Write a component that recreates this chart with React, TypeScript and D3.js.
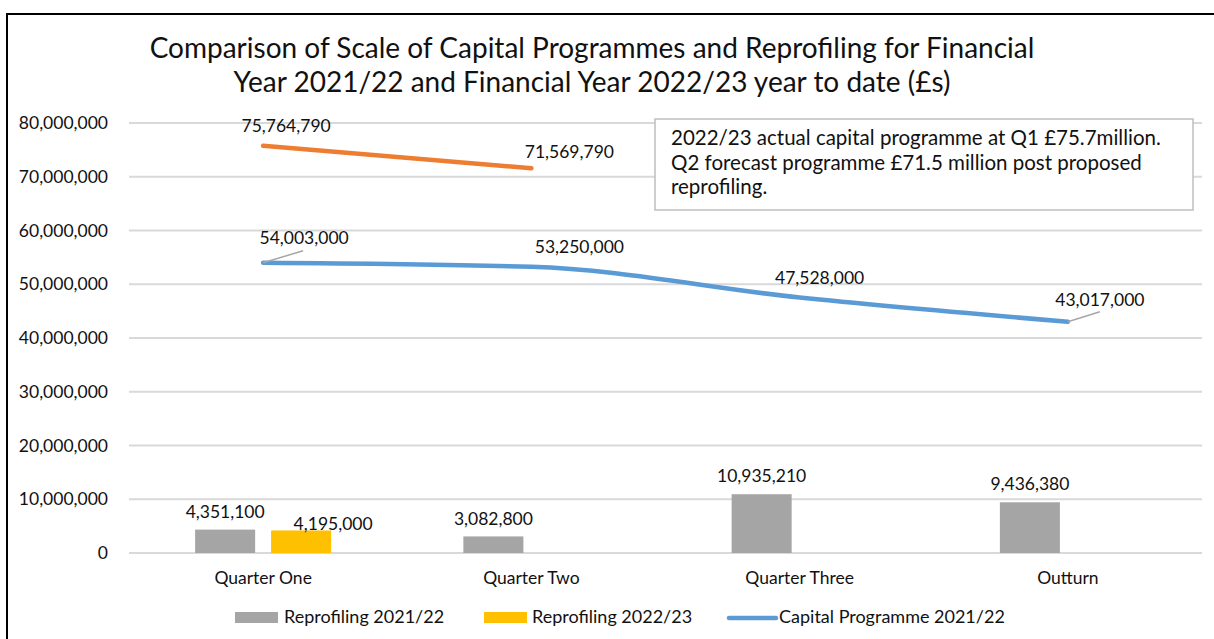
import React from 'react';
import * as d3 from 'd3';

const categories = ['Quarter One', 'Quarter Two', 'Quarter Three', 'Outturn'];
const reprofiling2122 = [4351100, 3082800, 10935210, 9436380];
const reprofiling2223 = [4195000, null, null, null];
const capital2122 = [54003000, 53250000, 47528000, 43017000];
const capital2223 = [75764790, 71569790, null, null];
const yTicks = [0, 10000000, 20000000, 30000000, 40000000, 50000000, 60000000, 70000000, 80000000];

const titleLines = [
  'Comparison of Scale of Capital Programmes and Reprofiling for Financial',
  'Year 2021/22 and Financial Year 2022/23 year to date (£s)',
];
const noteLines = [
  '2022/23 actual capital programme at Q1 £75.7million.',
  'Q2 forecast programme £71.5 million post proposed',
  'reprofiling.',
];

const W = 1214;
const H = 639;
const FONT = 'Lato, "Open Sans", sans-serif';
const GREY = '#a5a5a5';
const GOLD = '#ffc000';
const BLUE = '#5b9bd5';
const ORANGE = '#ed7d31';

// where Excel nudged the data labels (dx, dy from the point)
const capLabelOffset = [[41, -25], [48, -20], [20, -20], [32, -22]];
const orangeLabelOffset = [[23, -20], [38, -16]];

export default function App() {
  const x = d3.scaleBand().domain(categories).range([129, 1202]).padding(0);
  const cx = (c: string) => (x(c) as number) + x.bandwidth() / 2;
  const inner = d3.scaleBand().domain(['a', 'b']).range([-68, 68]).paddingInner(0.21);
  const y = d3.scaleLinear().domain([0, 80000000]).range([553, 123]);
  const fmt = d3.format(',');

  const smooth = d3
    .line<number>()
    .x((_, i) => cx(categories[i]))
    .y((d) => y(d))
    .curve(d3.curveMonotoneX);
  const straight = d3
    .line<number | null>()
    .defined((d) => d != null)
    .x((_, i) => cx(categories[i]))
    .y((d) => y(d as number));

  const txt = { fontFamily: FONT, fill: '#111' };

  return (
    <svg width={W} height={H} style={{ position: 'absolute', left: 0, top: 0, background: '#fff' }}>
      <rect x={7} y={14} width={1240} height={660} fill="#fff" stroke="#000" strokeWidth={2} />

      {titleLines.map((t, i) => (
        <text key={t} x={592} y={58 + i * 34} textAnchor="middle" fontSize={28} {...txt}>
          {t}
        </text>
      ))}

      {yTicks.map((t) => (
        <g key={t}>
          <line x1={129} x2={1202} y1={y(t)} y2={y(t)} stroke="#d9d9d9" strokeWidth={2} />
          <text x={108} y={y(t)} dy="0.35em" textAnchor="end" fontSize={17.5} {...txt}>
            {fmt(t)}
          </text>
        </g>
      ))}

      {categories.map((c, i) => (
        <g key={c}>
          <rect
            x={cx(c) + (inner('a') as number)}
            y={y(reprofiling2122[i])}
            width={inner.bandwidth()}
            height={y(0) - y(reprofiling2122[i])}
            fill={GREY}
          />
          <text x={cx(c) + (inner('a') as number) + inner.bandwidth() / 2} y={y(reprofiling2122[i]) - 18} dy="0.35em" textAnchor="middle" fontSize={17.5} {...txt}>
            {fmt(reprofiling2122[i])}
          </text>
          {reprofiling2223[i] != null && (
            <>
              <rect
                x={cx(c) + (inner('b') as number)}
                y={y(reprofiling2223[i] as number)}
                width={inner.bandwidth()}
                height={y(0) - y(reprofiling2223[i] as number)}
                fill={GOLD}
              />
              <text x={cx(c) + (inner('b') as number) + inner.bandwidth() / 2 + 32} y={y(reprofiling2223[i] as number) - 7} dy="0.35em" textAnchor="middle" fontSize={17.5} {...txt}>
                {fmt(reprofiling2223[i] as number)}
              </text>
            </>
          )}
          <text x={cx(c)} y={578} dy="0.35em" textAnchor="middle" fontSize={17.5} {...txt}>
            {c}
          </text>
        </g>
      ))}

      <path d={straight(capital2223) || ''} fill="none" stroke={ORANGE} strokeWidth={4.5} strokeLinecap="round" />
      <path d={smooth(capital2122) || ''} fill="none" stroke={BLUE} strokeWidth={4.5} strokeLinecap="round" />

      {/* leader lines */}
      <line x1={cx(categories[0])} y1={y(capital2122[0])} x2={cx(categories[0]) + 40} y2={y(capital2122[0]) - 12} stroke="#a6a6a6" strokeWidth={1.5} />
      <line x1={cx(categories[3])} y1={y(capital2122[3])} x2={cx(categories[3]) + 32} y2={y(capital2122[3]) - 10} stroke="#a6a6a6" strokeWidth={1.5} />

      {capital2122.map((v, i) => (
        <text key={'c' + i} x={cx(categories[i]) + capLabelOffset[i][0]} y={y(v) + capLabelOffset[i][1]} dy="0.35em" textAnchor="middle" fontSize={17.5} {...txt}>
          {fmt(v)}
        </text>
      ))}
      {capital2223.map((v, i) =>
        v == null ? null : (
          <text key={'o' + i} x={cx(categories[i]) + orangeLabelOffset[i][0]} y={y(v) + orangeLabelOffset[i][1]} dy="0.35em" textAnchor="middle" fontSize={17.5} {...txt}>
            {fmt(v)}
          </text>
        )
      )}

      {/* annotation */}
      <rect x={655} y={119} width={538} height={91} fill="#fff" stroke="#bfbfbf" strokeWidth={1.5} />
      {noteLines.map((t, i) => (
        <text key={t} x={671} y={138 + i * 24.5} dy="0.35em" fontSize={20.5} {...txt}>
          {t}
        </text>
      ))}

      {/* legend */}
      <rect x={235} y={612} width={43} height={11} fill={GREY} />
      <text x={284} y={617} dy="0.35em" fontSize={18} {...txt}>Reprofiling 2021/22</text>
      <rect x={484} y={612} width={43} height={11} fill={GOLD} />
      <text x={532} y={617} dy="0.35em" fontSize={18} {...txt}>Reprofiling 2022/23</text>
      <line x1={729} x2={776} y1={618} y2={618} stroke={BLUE} strokeWidth={4.5} strokeLinecap="round" />
      <text x={779} y={617} dy="0.35em" fontSize={18} {...txt}>Capital Programme 2021/22</text>
    </svg>
  );
}
